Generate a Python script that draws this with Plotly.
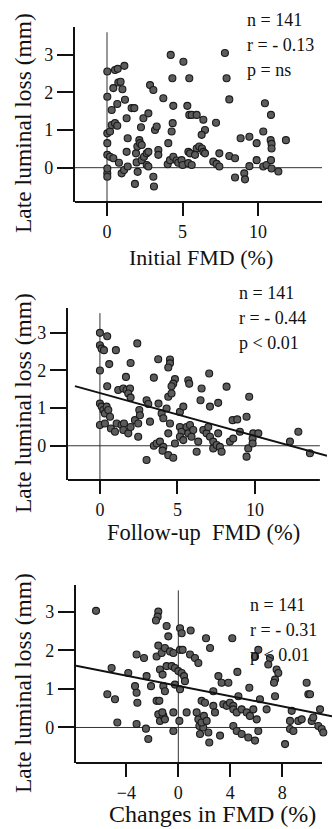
import plotly.graph_objects as go

# ---------------- data ----------------
initial_points = [
    (0.02, -0.15), (0.02, -0.02), (0.02, -0.24), (0.02, 0.34), (0.02, 0.65), (0.02, 0.91),
    (0.2, 0.96), (0.02, 1.88), (0.02, 2.55), (0.53, 2.59), (0.71, 2.62), (1.15, 2.7),
    (0.42, 2.11), (0.75, 2.26), (0.9, 2.28), (1.02, 2.08), (0.31, 1.53), (0.68, 1.69),
    (1.19, 1.8), (1.63, 1.58), (1.81, 1.58), (1.3, 1.31), (0.31, 1.13), (0.53, 1.18),
    (0.68, 1.11), (1.37, 0.78), (0.2, 0.29), (0.42, 0.25), (0.79, 0.13), (0.97, -0.15),
    (1.13, -0.06), (1.37, 0.03), (1.3, 0.42), (1.92, 0.38), (2.01, 0.56), (2.14, 0.73),
    (2.19, 0.65), (2.3, 0.6), (1.85, -0.43), (2.03, -0.11), (1.96, 0.14), (2.3, 0.2),
    (2.45, 0.29), (2.63, 0.38), (2.74, 0.42), (2.41, 1.31), (2.25, 1.07), (2.74, 1.44),
    (2.85, 2.19), (3.07, 2.06), (3.18, 1.0), (3.29, 1.09), (2.63, 0.07), (2.74, 0.03),
    (3.07, -0.24), (3.11, -0.5), (3.4, 0.47), (3.4, 0.34), (3.73, 1.84), (4.06, 0.65),
    (4.22, 2.99), (4.33, 2.37), (4.28, 0.96), (4.35, 1.18), (4.39, 1.64), (4.02, 0.09),
    (4.17, 0.2), (4.39, 0.29), (4.61, 0.19), (4.72, 0.13), (5.06, 2.81), (4.94, 0.2),
    (5.01, 0.07), (5.45, 2.37), (5.32, 1.64), (5.45, 1.4), (5.61, 1.4), (5.94, 1.4),
    (5.39, 0.42), (5.5, 0.38), (5.39, 0.12), (5.61, 0.07), (5.94, 0.51), (6.11, 0.56),
    (6.29, 0.51), (6.38, 0.42), (6.49, 0.38), (5.83, 0.34), (6.38, 1.27), (6.49, 1.0),
    (6.27, 0.87), (7.22, 1.19), (7.44, 0.38), (7.04, 0.16), (7.26, 0.1), (7.44, 0.03),
    (7.81, 3.04), (7.92, 2.37), (8.1, 1.81), (8.1, 0.31), (8.48, 0.25), (8.48, -0.26),
    (8.85, 0.78), (9.43, 0.82), (9.09, -0.15), (9.14, -0.31), (9.43, 0.04), (9.91, 0.65),
    (9.91, 0.2), (10.35, 0.96), (10.46, 1.71), (10.35, 0.03), (10.57, 0.07), (10.86, 1.4),
    (10.84, 0.73), (10.9, 0.63), (10.9, 0.51), (10.86, 0.2), (10.9, -0.02), (11.35, -0.1),
    (11.85, 0.73),
]

followup_points = [
    (0, 3.0), (0.47, 2.91), (0, 2.67), (0.11, 2.58), (0.26, 2.54), (1.03, 2.54), (2.41, 2.72),
    (0, 2.0), (0.6, 2.17), (1.98, 2.2), (3.76, 2.3), (4.52, 2.29), (4.52, 2.19), (4.41, 2.08),
    (0.47, 1.58), (1.68, 1.83), (1.18, 1.48), (1.51, 1.52), (1.72, 1.48), (1.94, 1.52),
    (1.83, 1.39), (1.98, 1.28), (3.48, 1.81), (4.84, 1.77), (4.73, 1.65), (4.62, 1.58),
    (5.7, 1.74), (5.76, 1.65), (7.05, 1.92), (6.56, 1.52), (8.17, 1.57), (6.49, 1.21),
    (7.1, 1.04), (7.63, 1.14), (9.63, 1.3), (0, 1.12), (0.11, 1.04), (0.22, 0.95),
    (0.32, 0.86), (0.43, 1.04), (0.54, 0.95), (0.65, 0.77), (0, 0.55), (0.32, 0.59),
    (0.71, 0.46), (0.97, 0.37), (1.08, 0.59), (1.4, 0.55), (1.55, 0.59), (1.51, 0.42),
    (1.83, 0.33), (1.98, 0.5), (2.26, 0.68), (2.47, 0.59), (2.54, 0.95), (2.47, 0.24),
    (3.01, 1.21), (3.12, 1.11), (3.23, 0.64), (3.01, -0.38), (3.48, 0.0), (3.66, 0.06),
    (3.87, 0.11), (4.09, -0.03), (4.04, -0.13), (3.78, 1.12), (3.98, 0.86), (4.09, 0.73),
    (4.3, 0.99), (4.41, 1.3), (4.62, 1.39), (4.41, 0.33), (4.52, 0.59), (4.41, -0.25),
    (4.73, -0.32), (4.84, 0.06), (5.16, 0.9), (5.38, 1.04), (5.16, 0.5), (5.27, 0.37),
    (5.16, 0.24), (5.38, 0.15), (5.59, 0.5), (5.7, 0.33), (5.81, 0.55), (5.91, 0.24),
    (6.02, 0.42), (6.24, -0.16), (6.34, 0.11), (6.67, 0.42), (6.88, 0.33), (6.99, 0.5),
    (7.1, 0.24), (7.31, 0.11), (7.31, -0.07), (7.53, 0.02), (7.74, -0.03), (7.85, -0.16),
    (7.63, 0.33), (8.39, 0.11), (8.6, 0.19), (8.56, 0.68), (8.86, 0.7), (9.03, 0.37),
    (9.46, 0.77), (9.57, -0.07), (9.46, -0.29), (9.89, 0.33), (9.85, 0.19), (10.22, 0.33),
    (9.85, 0.06), (12.26, 0.11), (12.8, 0.37), (13.55, -0.2), (2.58, 0.81),
]

change_points = [
    (-6.33, 3.02), (-5.13, 1.54), (-5.46, 0.86), (-4.87, 0.73), (-4.69, 0.13), (-3.85, 1.41),
    (-3.33, 1.07), (-3.21, 0.9), (-3.15, 0.64), (-3.21, 1.89), (-2.64, 1.8), (-3.21, 0.09),
    (-2.49, -0.03), (-2.31, -0.3), (-2.44, 1.33), (-2.1, 1.07), (-1.54, 3.0), (-1.59, 2.87),
    (-1.72, 2.77), (-0.9, 2.63), (-0.77, 2.36), (-1.54, 2.12), (-1.67, 1.84), (-1.28, 1.93),
    (-1.03, 2.06), (-0.64, 1.97), (-0.38, 1.93), (-1.41, 1.5), (-1.21, 1.37), (-0.9, 1.59),
    (-1.15, 1.07), (-1.03, 0.94), (-1.67, 0.69), (-1.46, 0.69), (-1.54, 0.34), (-1.41, 0.17),
    (-1.15, 0.3), (-1.03, 0.21), (-1.23, 0.39), (-0.38, 0.39), (-0.38, -0.09), (0.13, 2.57),
    (0.26, 2.44), (0.95, 2.51), (0.13, 2.01), (0.33, 2.01), (-0.51, 1.59), (-0.26, 1.54),
    (0.0, 1.46), (0.26, 1.41), (0.44, 1.33), (0.51, 1.2), (-0.26, 1.11), (0.13, 0.99),
    (0.08, 0.17), (0.64, 0.39), (0.9, 1.89), (1.28, 1.8), (1.54, 1.67), (2.13, 2.31),
    (2.44, 2.06), (1.41, 0.39), (1.54, 0.21), (1.62, 0.04), (1.67, -0.17), (1.92, 0.0),
    (1.79, 0.13), (1.97, 0.3), (2.18, 0.17), (2.31, -0.13), (2.38, -0.39), (1.79, 0.69),
    (2.05, 0.64), (2.69, 0.56), (2.82, 0.39), (3.08, 1.33), (3.33, 1.16), (3.85, 1.16),
    (2.69, 0.94), (3.21, -0.21), (3.46, 0.6), (3.72, 0.56), (3.97, 0.64), (4.23, 0.56),
    (4.23, 0.47), (4.49, 0.39), (4.87, 0.47), (5.26, 0.39), (4.15, 2.31), (4.54, 1.44),
    (4.62, 0.81), (4.23, 0.04), (4.49, -0.09), (4.87, -0.17), (5.38, -0.26), (5.9, -0.34),
    (6.15, -0.09), (5.46, 1.03), (5.51, 0.3), (5.77, 0.47), (6.03, 0.21), (6.15, 2.01),
    (5.9, 1.84), (6.28, 0.73), (7.05, 1.8), (6.92, 1.63), (7.56, 1.5), (7.69, 1.41),
    (7.44, 1.24), (7.36, 1.16), (6.79, 0.47), (7.44, 0.81), (8.21, -0.43), (8.72, 0.43),
    (8.59, 0.17), (8.59, -0.04), (8.85, -0.09), (9.23, 0.17), (9.49, 0.21), (9.87, 1.16),
    (10.0, 0.86), (10.13, 0.86), (10.26, 0.17), (10.38, 0.26), (10.9, 0.47), (10.77, 0.04),
    (11.03, -0.04), (11.15, -0.13),
]

# regression lines (slope, intercept, x extent)
followup_fit = {"slope": -0.114, "intercept": 1.401, "x": [-1.61, 14.65]}
change_fit = {"slope": -0.0665, "intercept": 1.077, "x": [-7.87, 11.82]}

x_titles = ["Initial FMD (%)", "Follow-up\u00a0 FMD (%)", "Changes in FMD (%)"]
y_title = "Late luminal loss (mm)"
stats_text = [
    ["n = 141", "r = - 0.13", "p = ns"],
    ["n = 141", "r = - 0.44", "p < 0.01"],
    ["n = 141", "r = - 0.31", "p < 0.01"],
]
x_tickvals = [[0, 5, 10], [0, 5, 10], [-4, 0, 4, 8]]
y_tickvals = [0, 1, 2, 3]

# ---------------- layout geometry (pixels) ----------------
W, H = 333, 829
FONT = "Liberation Serif, Times New Roman, serif"
INK = "#111111"

panels = [
    dict(points=initial_points, fit=None,
         xdom=(75, 322), xr=(-2.12, 14.24), xend=14.24,
         ydom=(27, 202), yr=(-0.91, 3.73),
         xtitle=(201, 257, 22), ytitle=(23, 123), stats_pos=(245, 20)),
    dict(points=followup_points, fit=followup_fit,
         xdom=(68, 327), xr=(-2.06, 14.65), xend=14.19,
         ydom=(308, 480), yr=(-0.91, 3.66),
         xtitle=(203, 532, 22.5), ytitle=(23, 403), stats_pos=(237, 293)),
    dict(points=change_points, fit=change_fit,
         xdom=(76, 332), xr=(-7.87, 11.82), xend=11.05,
         ydom=(585, 763), yr=(-0.92, 3.69),
         xtitle=(212, 814, 24), ytitle=(23, 683), stats_pos=(248, 605)),
]


def fx(p):
    return p / W


def fy(p):
    return 1 - p / H


fig = go.Figure()
shapes = []
annotations = []
layout = {}

for i, pn in enumerate(panels):
    k = "" if i == 0 else str(i + 1)
    xa, ya = "x" + k, "y" + k
    xs = [p[0] for p in pn["points"]]
    ys = [p[1] for p in pn["points"]]

    fig.add_trace(go.Scatter(
        x=xs, y=ys, mode="markers", xaxis=xa, yaxis=ya,
        cliponaxis=False, showlegend=False, hoverinfo="skip",
        marker=dict(size=7, color="#5c5c5c", line=dict(color="#1a1a1a", width=1.1)),
    ))

    if pn["fit"] is not None:
        f = pn["fit"]
        lx = f["x"]
        ly = [f["slope"] * v + f["intercept"] for v in lx]
        fig.add_trace(go.Scatter(
            x=lx, y=ly, mode="lines", xaxis=xa, yaxis=ya, showlegend=False,
            hoverinfo="skip", line=dict(color=INK, width=2),
        ))

    layout["xaxis" + k] = dict(
        domain=[fx(pn["xdom"][0]), fx(pn["xdom"][1])], range=list(pn["xr"]),
        anchor=ya, showgrid=False, zeroline=False, showline=False,
        tickmode="array", tickvals=x_tickvals[i], ticks="outside", ticklen=13,
        tickwidth=2, tickcolor=INK, tickfont=dict(family=FONT, size=18, color=INK),
        fixedrange=True,
    )
    layout["yaxis" + k] = dict(
        domain=[fy(pn["ydom"][1]), fy(pn["ydom"][0])], range=list(pn["yr"]),
        anchor=xa, showgrid=False, zeroline=False, showline=True, linewidth=2.2,
        linecolor=INK, tickmode="array", tickvals=y_tickvals, ticks="outside",
        ticklen=16, tickwidth=2, tickcolor=INK,
        tickfont=dict(family=FONT, size=18, color=INK), fixedrange=True,
    )

    # bottom axis line (ends where the drawn axis ends)
    shapes.append(dict(type="line", xref=xa, yref=ya + " domain",
                       x0=pn["xr"][0], x1=pn["xend"], y0=0, y1=0,
                       line=dict(color=INK, width=2.2), layer="above"))
    # reference lines at x = 0 and y = 0
    shapes.append(dict(type="line", xref=xa, yref=ya + " domain",
                       x0=0, x1=0, y0=0, y1=0.97,
                       line=dict(color="#333333", width=1), layer="below"))
    shapes.append(dict(type="line", xref=xa, yref=ya,
                       x0=pn["xr"][0], x1=pn["xend"], y0=0, y1=0,
                       line=dict(color="#333333", width=1), layer="below"))

    # titles
    tx, ty, ts = pn["xtitle"]
    annotations.append(dict(text=x_titles[i], xref="paper", yref="paper",
                            x=fx(tx), y=fy(ty),
                            showarrow=False, xanchor="center", yanchor="middle",
                            font=dict(family=FONT, size=ts, color=INK)))
    annotations.append(dict(text=y_title, xref="paper", yref="paper",
                            x=fx(pn["ytitle"][0]), y=fy(pn["ytitle"][1]),
                            showarrow=False, xanchor="center", yanchor="middle",
                            textangle=-90,
                            font=dict(family=FONT, size=23.5, color=INK)))
    sx, sy = pn["stats_pos"]
    for j, line in enumerate(stats_text[i]):
        annotations.append(dict(text=line, xref="paper", yref="paper",
                                x=fx(sx), y=fy(sy + j * 25),
                                showarrow=False, xanchor="left", yanchor="middle",
                                font=dict(family=FONT, size=18, color=INK)))

fig.update_layout(
    width=W, height=H, margin=dict(l=0, r=0, t=0, b=0),
    paper_bgcolor="white", plot_bgcolor="white",
    shapes=shapes, annotations=annotations, **layout,
)

fig.write_html(
    "out.html",
    config={"displayModeBar": False, "staticPlot": True},
    post_script="document.body.style.margin='0';document.body.style.overflow='hidden';",
)
